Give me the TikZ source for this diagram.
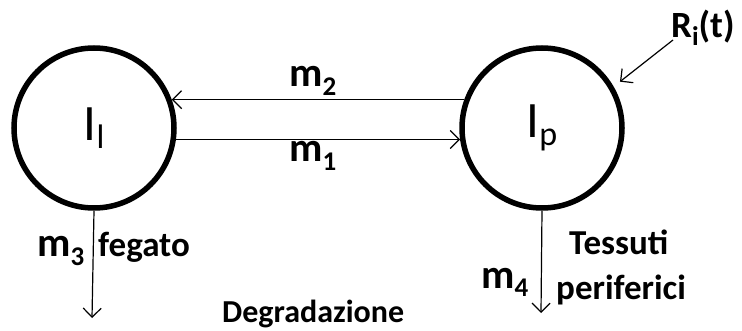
\documentclass[tikz,border=0pt]{standalone}
\usepackage{fontspec}
\setmainfont{Carlito}
\usetikzlibrary{arrows.meta}
\newcommand\poolname[2]{{\fontsize{51}{52}\selectfont #1\raisebox{-0.16em}{\fontsize{34}{34}\selectfont #2}}}
\newcommand\rateidx[2]{#1\raisebox{-0.2em}{\fontsize{27}{28}\selectfont #2}}
\begin{document}
\begin{tikzpicture}[x=1pt,y=-1pt,
  pool/.style={circle, draw, line width=5.5pt, minimum size=160pt, inner sep=0pt},
  flow/.style={-{Straight Barb[length=9pt,width=18pt,line width=1.2pt]}, line width=1.2pt},
  lbl/.style={font=\fontsize{35}{37}\selectfont\bfseries, inner sep=0pt, anchor=base west},
  mlbl/.style={font=\fontsize{41}{43}\selectfont\bfseries, inner sep=0pt, anchor=base west}]
\useasboundingbox (0,0) rectangle (742,331);
\fill[white] (0,0) rectangle (742,331);
\node[pool] (Il) at (94,128) {\poolname{I}{l}};
\node[pool] (Ip) at (542,128) {\poolname{I}{p}};
\draw[flow] (Ip.160) -- (Il.20);
\draw[flow] (Il.-8) -- (Ip.188);
\node[mlbl] (m2) at (289,87) {\rateidx{m}{2}};
\node[mlbl] (m1) at (289,162) {\rateidx{m}{1}};
\coordinate (d3) at (92,318);
\coordinate (d4) at (541,313);
\draw[flow] (Il.south) -- (d3);
\draw[flow] (Ip.south) -- (d4);
\node[mlbl] (m3) at (37,257) {\rateidx{m}{3}};
\node[lbl] (feg) at (98,257) {fegato};
\node[mlbl] (m4) at (481,288) {\rateidx{m}{4}};
\node[lbl] (tes) at (569,255) {Tessuti};
\node[lbl] (per) at (556,300) {periferici};
\node[lbl, font=\fontsize{32}{34}\selectfont\bfseries] (deg) at (222,323) {Degradazione};
\node[font=\fontsize{37}{39}\selectfont\bfseries, inner sep=0pt, anchor=base west] (R) at (671,38) {\rateidx{R}{i}(t)};
\coordinate (Rs) at (673,40);
\draw[flow, shorten >=8pt] (Rs) -- (Ip.30);
\end{tikzpicture}
\end{document}
